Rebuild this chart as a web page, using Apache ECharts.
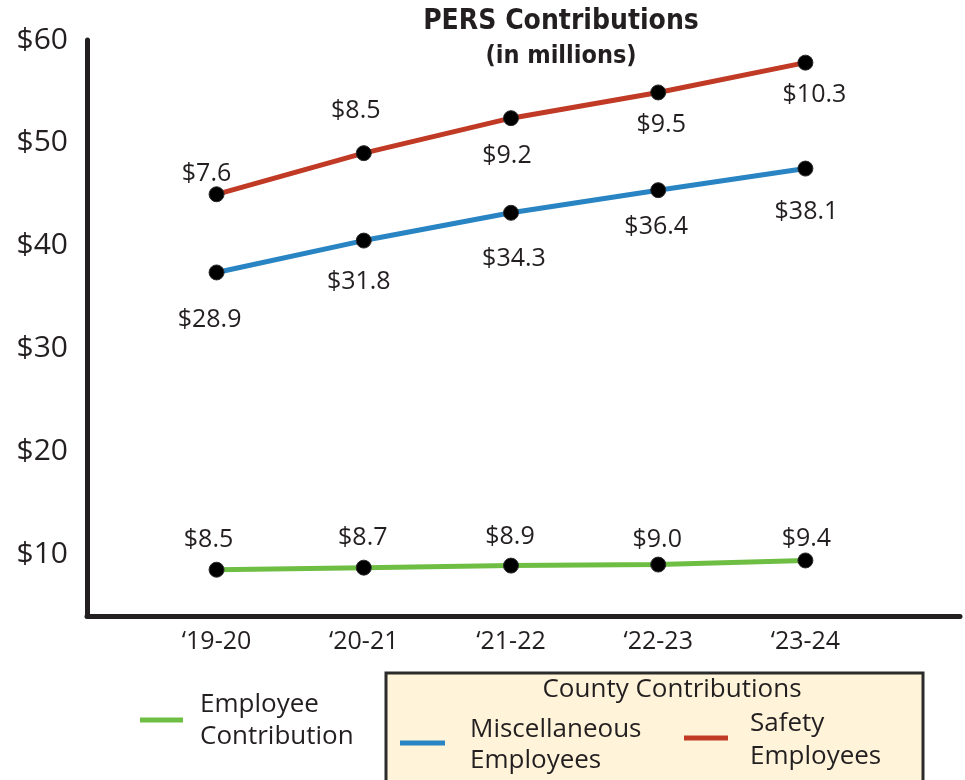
<!DOCTYPE html>
<html>
<head>
<meta charset="utf-8">
<script src="https://cdn.jsdelivr.net/npm/echarts@6/dist/echarts.min.js"></script>
<style>
  html, body { margin: 0; padding: 0; background: #fff; }
  #chart { width: 965px; height: 780px; }
</style>
</head>
<body>
<div id="chart"></div>
<script>
// fiscal years and contributions (in millions)
var years = ['\u201819-20', '\u201820-21', '\u201821-22', '\u201822-23', '\u201823-24'];
var employee = [8.5, 8.7, 8.9, 9.0, 9.4];
var misc = [28.9, 31.8, 34.3, 36.4, 38.1];
var safety = [7.6, 8.5, 9.2, 9.5, 10.3];
var yTicks = [10, 20, 30, 40, 50, 60];

var FONT = 'Open Sans';
var TITLE_FONT = "'DejaVu Sans Condensed', 'DejaVu Sans', sans-serif";
var TEXT = '#231f20';

// where each value label sits relative to its point
var empOffsets = [[-8, -30], [-1, -30], [-1, -29], [-1, -25], [1, -22]];
var miscOffsets = [[-7, 47], [-5, 41], [3, 46], [-2, 37], [1, 43]];
var safetyOffsets = [[-10, -20], [-8, -42], [-4, 38], [3, 32], [9, 32]];

// lines are stacked: employee, then misc on top, then safety on top
var zeros = employee.map(function () { return 0; });
var empTop = employee.slice();
var miscTop = misc.map(function (v, i) { return v + empTop[i]; });

function makeSeries(name, raw, base, color, offsets) {
    return {
        name: name,
        type: 'line',
        symbol: 'circle',
        symbolSize: 15,
        lineStyle: {color: color, width: 5},
        itemStyle: {color: '#000', borderColor: '#2b2b2b', borderWidth: 1},
        data: raw.map(function (v, i) {
            return {value: [i, base[i] + v], label: {offset: offsets[i]}};
        }),
        label: {
            show: true,
            position: 'inside',
            fontFamily: FONT,
            fontSize: 25,
            color: TEXT,
            formatter: function (p) {
                return '$' + raw[p.dataIndex].toFixed(1);
            }
        }
    };
}

var legendFont = '26px "' + FONT + '"';

var chart = echarts.init(document.getElementById('chart'));
var option = {
    animation: false,
    title: {
        text: 'PERS Contributions',
        subtext: '(in millions)',
        left: 556,
        textAlign: 'center',
        top: 3,
        itemGap: 8,
        textStyle: {fontFamily: TITLE_FONT, fontWeight: 'bold', fontSize: 28, color: TEXT},
        subtextStyle: {fontFamily: TITLE_FONT, fontWeight: 'bold', fontSize: 25, color: TEXT}
    },
    grid: {left: 87, right: 5, top: 40, bottom: 164},
    xAxis: {
        type: 'value',
        min: -0.88,
        max: 5.05,
        splitLine: {show: false},
        axisTick: {show: false},
        axisLine: {show: true, onZero: false, lineStyle: {color: TEXT, width: 5}},
        axisLabel: {
            customValues: [0, 1, 2, 3, 4],
            formatter: function (v) { return years[v]; },
            fontFamily: FONT,
            fontSize: 25,
            color: TEXT,
            margin: 13
        }
    },
    yAxis: {
        type: 'value',
        min: 4,
        max: 60,
        splitLine: {show: false},
        axisTick: {show: false},
        axisLine: {show: true, onZero: false, lineStyle: {color: TEXT, width: 5}},
        axisLabel: {
            customValues: yTicks,
            formatter: function (v) { return '$' + v; },
            fontFamily: FONT,
            fontSize: 30,
            color: TEXT,
            margin: 19
        }
    },
    series: [
        makeSeries('Employee Contribution', employee, zeros, '#6fbe44', empOffsets),
        makeSeries('Miscellaneous Employees', misc, empTop, '#2884c2', miscOffsets),
        makeSeries('Safety Employees', safety, miscTop, '#c03a25', safetyOffsets)
    ],
    graphic: [
        {type: 'line', shape: {x1: 140, y1: 720, x2: 183, y2: 720}, style: {stroke: '#6fbe44', lineWidth: 5}},
        {type: 'text', x: 200, y: 721, style: {text: 'Employee\nContribution', font: legendFont, fill: TEXT, verticalAlign: 'middle', lineHeight: 32}},
        {type: 'rect', shape: {x: 386, y: 673, width: 537, height: 120},
            style: {fill: '#fff4d9', stroke: '#2b2b2b', lineWidth: 3}},
        {type: 'text', x: 672, y: 690, style: {text: 'County Contributions', font: legendFont, fill: TEXT, align: 'center', verticalAlign: 'middle'}},
        {type: 'line', shape: {x1: 400, y1: 743, x2: 445, y2: 743}, style: {stroke: '#2884c2', lineWidth: 5}},
        {type: 'text', x: 470, y: 745, style: {text: 'Miscellaneous\nEmployees', font: legendFont, fill: TEXT, verticalAlign: 'middle', lineHeight: 31}},
        {type: 'line', shape: {x1: 684, y1: 738, x2: 728, y2: 738}, style: {stroke: '#c03a25', lineWidth: 5}},
        {type: 'text', x: 750, y: 740, style: {text: 'Safety\nEmployees', font: legendFont, fill: TEXT, verticalAlign: 'middle', lineHeight: 33}}
    ]
};
chart.setOption(option);
</script>
</body>
</html>
